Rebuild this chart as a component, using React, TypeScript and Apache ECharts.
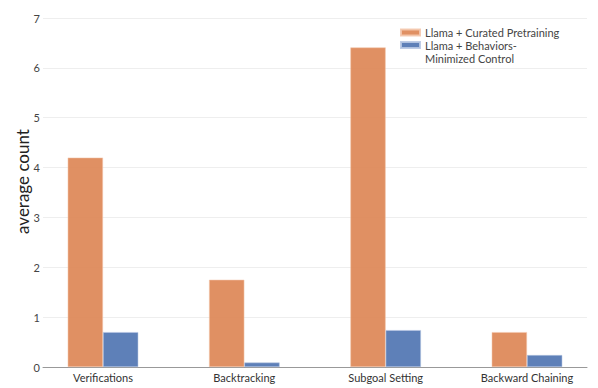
import React, { useEffect, useRef } from "react";
import * as echarts from "echarts";

const categories = ["Verifications", "Backtracking", "Subgoal Setting", "Backward Chaining"];
const seriesNames = ["Llama + Curated Pretraining", "Llama + Behaviors-Minimized Control"];
const curatedValues = [4.2, 1.75, 6.41, 0.7];
const controlValues = [0.7, 0.09, 0.74, 0.24];
const yTicks = [0, 1, 2, 3, 4, 5, 6, 7];

const FONT = "Lato, 'Noto Sans', sans-serif";

export default function App() {
  const ref = useRef<HTMLDivElement>(null);
  useEffect(() => {
    if (!ref.current) return;
    const chart = echarts.init(ref.current, undefined, { renderer: "svg" });
    const toPairs = (vals: number[]) => vals.map((v, i) => [i, v]);
    chart.setOption({
      animation: false,
      backgroundColor: "#ffffff",
      textStyle: { fontFamily: FONT },
      grid: { left: 43, right: 11, top: 18, bottom: 21, containLabel: false, outerBoundsMode: "none" },
      legend: [
        {
          left: 400,
          top: 26,
          padding: 0,
          itemWidth: 19,
          itemHeight: 6,
          icon: "rect",
          selectedMode: false,
          textStyle: { fontFamily: FONT, fontSize: 11, color: "#444", lineHeight: 13 },
          data: [{ name: seriesNames[0] }],
        },
        {
          left: 400,
          top: 25.5,
          padding: 0,
          itemWidth: 19,
          itemHeight: 6,
          icon: "rect",
          selectedMode: false,
          formatter: () => " \nLlama + Behaviors-\nMinimized Control",
          textStyle: { fontFamily: FONT, fontSize: 11, color: "#444", lineHeight: 13 },
          data: [{ name: seriesNames[1] }],
        },
      ],
      xAxis: {
        type: "value",
        min: -0.4245,
        max: 3.4245,
        axisLine: { show: true, lineStyle: { color: "#999", width: 1 } },
        axisTick: { show: false },
        splitLine: { show: false },
        axisLabel: {
          customValues: [0, 1, 2, 3],
          formatter: (v: number) => categories[Math.round(v)] ?? "",
          fontFamily: FONT,
          fontSize: 11,
          color: "#333",
          margin: 5,
        },
      },
      yAxis: {
        type: "value",
        min: 0,
        max: 7,
        interval: 1,
        name: "average count",
        nameLocation: "middle",
        nameGap: 12,
        nameMoveOverlap: false,
        nameTextStyle: { fontFamily: FONT, fontSize: 17, color: "#222", padding: [0, 0, 0, 22] },
        axisLine: { show: false },
        axisTick: { show: false },
        splitLine: { show: true, lineStyle: { color: "#eeeeee", width: 1 } },
        axisLabel: {
          fontFamily: FONT,
          fontSize: 11,
          color: "#444",
          margin: 3,
          customValues: yTicks,
        },
      },
      series: [
        {
          name: seriesNames[0],
          type: "bar",
          data: toPairs(curatedValues),
          barWidth: 35.3,
          barGap: "0%",
          itemStyle: { color: "#DD8452", opacity: 0.9, borderColor: "#f3c7ad", borderWidth: 0.6 },
        },
        {
          name: seriesNames[1],
          type: "bar",
          data: toPairs(controlValues),
          barWidth: 35.3,
          barGap: "0%",
          itemStyle: { color: "#4C72B0", opacity: 0.9, borderColor: "#b8c8e3", borderWidth: 0.6 },
        },
      ],
    });
    return () => chart.dispose();
  }, []);
  return <div ref={ref} style={{ width: 598, height: 388, position: "absolute", left: 0, top: 0 }} />;
}
